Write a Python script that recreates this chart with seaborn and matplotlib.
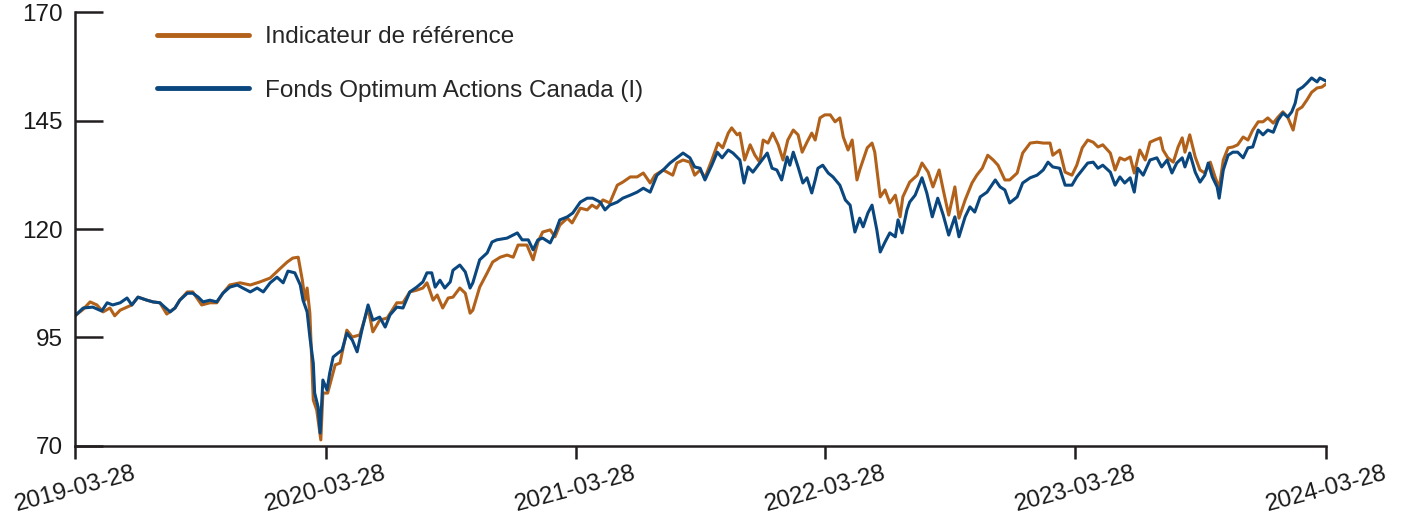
import matplotlib
matplotlib.use("Agg")
import matplotlib.pyplot as plt
import numpy as np
import pandas as pd
import seaborn as sns

# ---------------- data ----------------
start_date = "2019-03-28"
end_date = "2024-03-28"
tick_dates = ["2019-03-28", "2020-03-28", "2021-03-28", "2022-03-28", "2023-03-28", "2024-03-28"]
y_ticks = [70, 95, 120, 145, 170]

bench_label = "Indicateur de référence"
fund_label = "Fonds Optimum Actions Canada (I)"

# days elapsed since start_date
bench_days = [
    0, 12, 22, 32, 41, 51, 58, 66, 76, 83,
    92, 105, 114, 124, 134, 146, 153, 164, 172, 185,
    197, 207, 216, 226, 241, 256, 270, 285, 299, 310,
    318, 326, 332, 336, 339, 343, 348, 353, 359, 362,
    369, 380, 387, 397, 405, 416, 428, 435, 445, 456,
    470, 479, 489, 499, 508, 514, 518, 523, 529, 537,
    545, 552, 562, 570, 577, 581, 591, 602, 610, 621,
    631, 640, 647, 660, 669, 676, 683, 694, 701, 708,
    719, 726, 738, 748, 755, 762, 771, 781, 792, 800,
    811, 821, 830, 840, 847, 859, 873, 879, 888, 898,
    905, 913, 920, 930, 939, 946, 954, 959, 967, 971,
    978, 986, 993, 1000, 1005, 1012, 1019, 1027, 1034, 1041,
    1049, 1056, 1062, 1069, 1076, 1081, 1088, 1095, 1103, 1110,
    1117, 1122, 1129, 1135, 1142, 1146, 1151, 1157, 1164, 1168,
    1176, 1183, 1190, 1198, 1205, 1209, 1219, 1230, 1237, 1246,
    1253, 1262, 1268, 1276, 1285, 1291, 1300, 1310, 1317, 1325,
    1333, 1341, 1348, 1358, 1365, 1376, 1384, 1395, 1405, 1414,
    1424, 1428, 1438, 1446, 1456, 1463, 1471, 1479, 1487, 1494,
    1501, 1512, 1519, 1526, 1533, 1541, 1547, 1555, 1563, 1570,
    1577, 1585, 1589, 1596, 1604, 1611, 1617, 1621, 1628, 1636,
    1643, 1650, 1658, 1665, 1671, 1677, 1684, 1691, 1698, 1706,
    1713, 1720, 1728, 1735, 1742, 1750, 1757, 1764, 1771, 1779,
    1785, 1792, 1799, 1806, 1814, 1821, 1827,
]
bench_values = [
    100.0, 101.5, 103.2, 102.5, 100.9, 101.8, 100.0, 101.3, 102.0, 102.5,
    104.3, 103.6, 103.2, 103.0, 100.4, 101.8, 103.6, 105.5, 105.5, 102.5,
    103.0, 103.0, 105.2, 107.1, 107.6, 107.1, 107.8, 108.7, 110.8, 112.4,
    113.3, 113.5, 108.2, 103.6, 106.4, 100.6, 80.6, 78.3, 71.4, 82.2,
    82.2, 88.7, 89.1, 96.7, 95.1, 95.6, 101.8, 96.3, 99.0, 99.5,
    103.0, 103.0, 105.5, 105.9, 106.4, 107.6, 105.9, 103.6, 104.8, 101.8,
    104.1, 104.3, 106.4, 105.2, 100.6, 101.3, 106.6, 109.9, 112.4, 113.5,
    114.0, 113.5, 116.3, 116.3, 112.9, 117.0, 119.3, 119.8, 118.2, 120.9,
    122.5, 121.4, 124.8, 124.4, 125.5, 124.8, 126.7, 126.0, 130.1, 130.8,
    132.0, 132.0, 132.9, 130.6, 132.4, 133.6, 132.4, 135.2, 135.9, 135.4,
    132.4, 133.6, 131.8, 135.9, 139.8, 138.7, 142.1, 143.3, 141.7, 142.1,
    135.9, 139.4, 137.0, 135.4, 140.5, 139.8, 142.1, 139.4, 135.9, 140.5,
    142.8, 141.7, 137.7, 140.0, 142.1, 140.5, 145.6, 146.3, 146.3, 144.7,
    145.6, 141.2, 138.2, 140.5, 131.3, 133.6, 135.9, 138.7, 139.8, 137.7,
    127.4, 129.0, 126.0, 127.8, 122.8, 127.4, 130.8, 132.4, 135.2, 133.1,
    129.7, 133.6, 129.0, 123.2, 129.7, 122.5, 126.7, 130.6, 132.4, 134.0,
    137.0, 135.9, 134.7, 131.3, 131.3, 132.9, 137.5, 139.8, 140.0, 139.8,
    139.8, 137.0, 138.2, 133.1, 132.4, 134.7, 138.7, 140.5, 140.0, 138.9,
    139.4, 137.5, 133.6, 136.4, 135.9, 136.6, 132.9, 138.2, 135.9, 140.0,
    140.5, 141.0, 138.2, 136.4, 135.4, 138.9, 141.0, 137.7, 141.7, 136.6,
    133.6, 132.9, 135.4, 132.0, 129.4, 135.9, 138.7, 138.9, 139.4, 141.2,
    140.5, 142.8, 144.7, 144.7, 145.6, 144.4, 145.8, 147.0, 145.8, 142.8,
    147.4, 148.1, 149.7, 151.5, 152.5, 152.7, 153.4,
]

fund_days = [
    0, 12, 26, 39, 47, 55, 66, 76, 83, 92,
    105, 114, 124, 131, 139, 146, 153, 164, 172, 180,
    187, 197, 207, 216, 226, 237, 245, 256, 266, 275,
    285, 295, 304, 311, 321, 329, 333, 339, 343, 348,
    350, 355, 358, 362, 368, 372, 377, 384, 390, 397,
    405, 412, 419, 428, 435, 445, 453, 460, 470, 479,
    489, 499, 508, 514, 521, 526, 533, 540, 548, 552,
    562, 570, 577, 581, 591, 602, 609, 616, 631, 646,
    653, 662, 669, 676, 683, 694, 701, 708, 719, 727,
    738, 748, 756, 767, 774, 781, 792, 800, 811, 821,
    830, 840, 850, 859, 869, 879, 888, 898, 905, 913,
    920, 930, 938, 945, 954, 961, 971, 977, 983, 990,
    1000, 1011, 1018, 1025, 1032, 1040, 1044, 1049, 1056, 1063,
    1069, 1076, 1081, 1085, 1092, 1100, 1107, 1117, 1125, 1132,
    1139, 1146, 1151, 1158, 1164, 1171, 1176, 1183, 1190, 1198,
    1202, 1208, 1215, 1219, 1227, 1237, 1244, 1252, 1260, 1268,
    1276, 1285, 1291, 1300, 1307, 1314, 1322, 1332, 1344, 1351,
    1358, 1365, 1376, 1384, 1395, 1405, 1414, 1421, 1428, 1438,
    1446, 1456, 1463, 1471, 1479, 1487, 1494, 1501, 1512, 1519,
    1526, 1533, 1541, 1547, 1552, 1560, 1570, 1580, 1587, 1595,
    1602, 1609, 1617, 1621, 1628, 1636, 1643, 1650, 1655, 1661,
    1668, 1671, 1677, 1684, 1691, 1698, 1706, 1713, 1720, 1728,
    1735, 1742, 1750, 1757, 1764, 1771, 1777, 1782, 1786, 1793,
    1799, 1806, 1814, 1818, 1827,
]
fund_values = [
    100.0, 101.8, 102.0, 101.1, 103.0, 102.5, 103.0, 104.1, 102.5, 104.3,
    103.6, 103.2, 103.0, 102.0, 100.9, 101.8, 103.6, 105.2, 105.2, 104.3,
    103.2, 103.6, 103.2, 105.2, 106.6, 107.1, 106.4, 105.5, 106.4, 105.5,
    107.6, 108.9, 107.6, 110.3, 109.9, 107.1, 103.6, 100.9, 95.1, 89.1,
    82.2, 79.0, 73.0, 85.2, 82.9, 86.8, 90.5, 91.4, 92.1, 96.0,
    94.4, 91.7, 96.7, 102.5, 99.0, 99.7, 97.4, 100.2, 102.0, 101.8,
    105.5, 106.6, 107.8, 109.9, 109.9, 106.6, 108.2, 106.4, 107.8, 110.5,
    111.7, 110.1, 106.4, 107.6, 112.9, 114.5, 117.0, 117.5, 117.9, 119.1,
    117.5, 117.5, 115.2, 117.5, 117.9, 116.8, 119.1, 122.1, 122.8, 123.7,
    126.2, 127.1, 127.1, 126.2, 124.4, 125.5, 126.2, 127.1, 127.8, 128.5,
    129.4, 128.5, 132.4, 133.6, 135.2, 136.4, 137.5, 136.4, 134.3, 134.0,
    131.3, 134.7, 137.7, 136.4, 138.2, 137.5, 135.9, 130.6, 134.3, 133.1,
    135.2, 137.5, 134.0, 133.6, 131.3, 136.6, 134.7, 137.7, 134.3, 130.6,
    131.8, 128.3, 131.3, 134.0, 134.7, 132.9, 132.0, 130.1, 126.7, 125.5,
    119.3, 122.5, 120.5, 123.7, 125.5, 119.8, 114.7, 117.0, 119.1, 118.2,
    122.1, 119.1, 124.4, 126.2, 127.8, 131.8, 128.3, 122.8, 127.1, 123.2,
    118.6, 122.8, 118.2, 122.8, 125.1, 123.9, 127.4, 128.5, 131.3, 129.7,
    129.0, 126.0, 127.4, 130.6, 131.8, 132.4, 133.6, 135.4, 134.3, 134.0,
    130.1, 130.1, 132.0, 133.6, 135.2, 135.4, 134.0, 134.7, 133.1, 130.1,
    132.0, 130.6, 131.8, 128.5, 134.0, 132.4, 135.9, 136.4, 134.3, 135.9,
    132.9, 135.2, 136.4, 134.3, 137.5, 133.1, 130.8, 132.4, 135.2, 132.0,
    129.7, 127.1, 133.6, 137.0, 137.7, 137.7, 136.4, 138.7, 138.9, 142.8,
    141.7, 142.8, 142.3, 145.1, 146.7, 145.8, 147.0, 149.0, 152.0, 152.7,
    153.6, 154.8, 153.9, 154.8, 154.1,
]

assert len(bench_days) == len(bench_values), (len(bench_days), len(bench_values))
assert len(fund_days) == len(fund_values), (len(fund_days), len(fund_values))

# ---------------- build frames ----------------
t0 = pd.Timestamp(start_date)
bench_df = pd.DataFrame({"date": t0 + pd.to_timedelta(bench_days, unit="D"),
                         "value": bench_values})
fund_df = pd.DataFrame({"date": t0 + pd.to_timedelta(fund_days, unit="D"),
                        "value": fund_values})

# ---------------- style ----------------
sns.set_style("white")
plt.rcParams["font.family"] = ["Liberation Sans", "DejaVu Sans"]
plt.rcParams["font.size"] = 17

orange = "#B2611A"
blue = "#0A477F"
axis_color = "#231F20"

fig = plt.figure(figsize=(14.08, 5.17), dpi=100)
ax = fig.add_axes([75 / 1408, 71 / 517, 1251 / 1408, 434 / 517])

sns.lineplot(data=bench_df, x="date", y="value", ax=ax, color=orange,
             linewidth=2.2, label=bench_label)
sns.lineplot(data=fund_df, x="date", y="value", ax=ax, color=blue,
             linewidth=2.2, label=fund_label)

ax.set_xlim(pd.Timestamp(start_date), pd.Timestamp(end_date))
ax.set_ylim(y_ticks[0], y_ticks[-1])
ax.set_yticks(y_ticks)
ax.set_xticks([pd.Timestamp(d) for d in tick_dates])
ax.set_xticklabels(tick_dates, rotation=15, ha="center")
ax.set_xlabel("")
ax.set_ylabel("")

for side in ["top", "right"]:
    ax.spines[side].set_visible(False)
for side in ["left", "bottom"]:
    ax.spines[side].set_color(axis_color)
    ax.spines[side].set_linewidth(1.8)

ax.tick_params(axis="y", which="major", left=True, direction="in", length=20,
               width=1.8, color=axis_color, pad=9, labelsize=17.5,
               labelcolor="#1a1a1a")
ax.tick_params(axis="x", which="major", bottom=True, direction="out", length=9.5,
               width=1.8, color=axis_color, pad=2, labelsize=17.5,
               labelcolor="#1a1a1a")

leg = ax.legend(loc="upper left", bbox_to_anchor=(82 / 1251, 1 - 14 / 434),
                frameon=False, borderpad=0, borderaxespad=0,
                handlelength=3.8, handletextpad=0.65, labelspacing=1.3,
                fontsize=17.5)
for line in leg.get_lines():
    line.set_linewidth(3.5)

fig.savefig("out.png", dpi=100)
